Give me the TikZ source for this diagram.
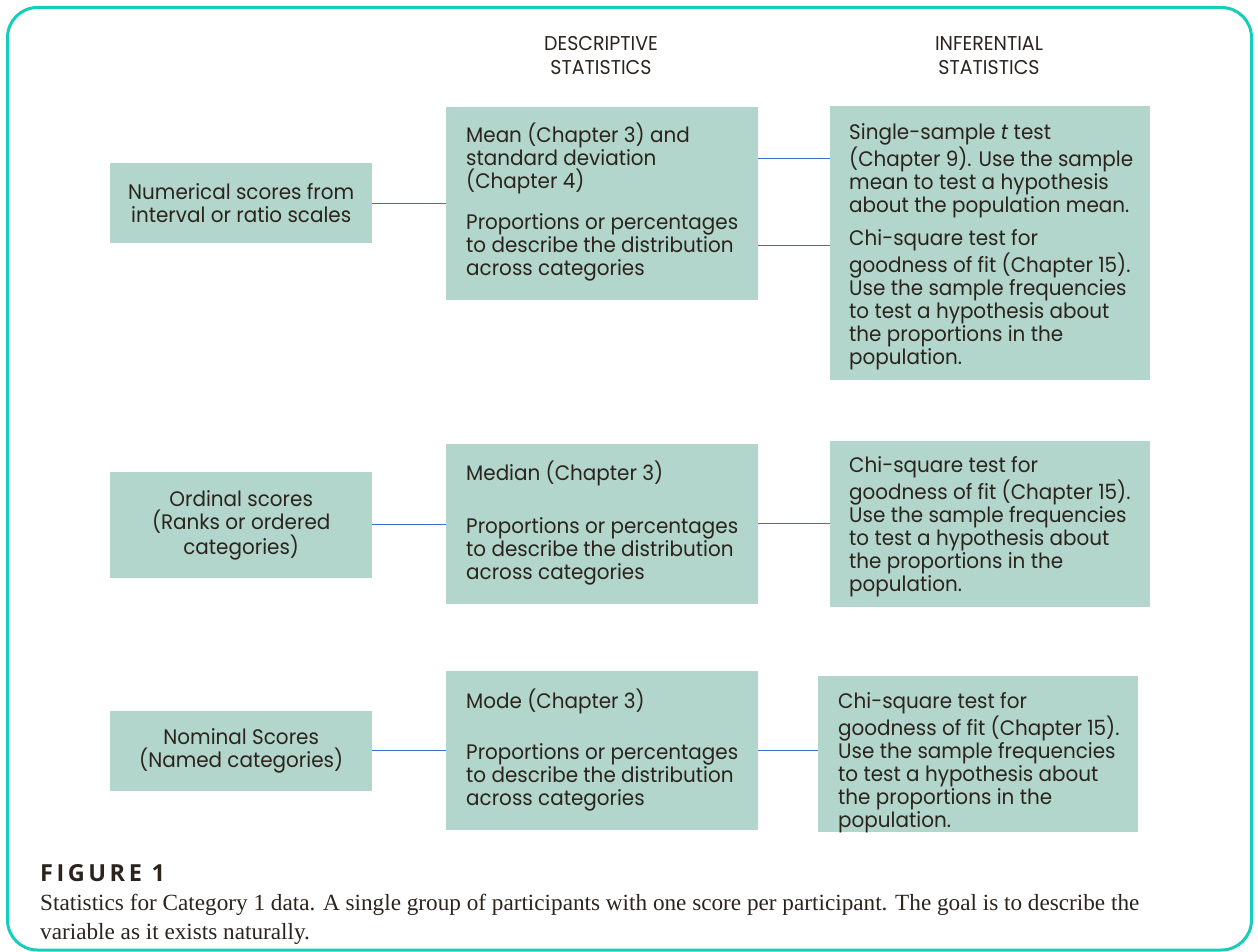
\documentclass[tikz,border=0pt]{standalone}
\usepackage{fontspec}
\newfontfamily\boxfont{Poppins}[FakeStretch=0.95]
\newfontfamily\capfont{Liberation Serif}
\newfontfamily\figfont{Open Sans}[LetterSpace=15]
\definecolor{bordercol}{RGB}{22,206,184}
\definecolor{boxfill}{RGB}{178,214,203}
\definecolor{linkblue}{RGB}{58,108,212}
\definecolor{txt}{RGB}{43,36,30}
\begin{document}
\begin{tikzpicture}[x=1pt,y=-1pt,
  box/.style={fill=boxfill, inner sep=0pt, anchor=north west, text=txt, align=center,
    font=\boxfont\fontsize{21}{23}\selectfont},
  btext/.style={anchor=base west, inner sep=0pt, align=left, text=txt,
    font=\boxfont\fontsize{21}{23}\selectfont},
  head/.style={anchor=base, inner sep=0pt, align=center, text=txt,
    font=\boxfont\fontsize{20}{24}\selectfont},
  link/.style={draw=linkblue, line width=1.5pt}]
\useasboundingbox (0,0) rectangle (1258,952);
\draw[bordercol, line width=3pt, rounded corners=30pt] (7.5,7.5) rectangle (1251.5,950);

% headings (base anchor = last line)
\node[head] (hd1) at (601,75) {DESCRIPTIVE\\STATISTICS};
\node[head] (hd2) at (989,75) {INFERENTIAL\\STATISTICS};

% row 1
\node[box, minimum width=262pt, minimum height=80pt] (L1) at (110,163) {Numerical scores from\\interval or ratio scales};
\node[box, minimum width=312pt, minimum height=193pt] (D1) at (446,107) {};
\node[box, minimum width=320pt, minimum height=274pt] (I1) at (830,106) {};
\node[btext] (d1a) at (466,189) {Mean (Chapter 3) and\\standard deviation\\(Chapter 4)};
\node[btext] (d1b) at (466,275) {Proportions or percentages\\to describe the distribution\\across categories};
\node[btext] (i1a) at (849,212) {Single-sample \textit{t} test\\(Chapter 9). Use the sample\\mean to test a hypothesis\\about the population mean.};
\node[btext] (i1b) at (849,364) {Chi-square test for\\goodness of fit (Chapter 15).\\Use the sample frequencies\\to test a hypothesis about\\the proportions in the\\population.};

% row 2
\node[box, minimum width=262pt, minimum height=106pt] (L2) at (110,472) {Ordinal scores\\(Ranks or ordered\\categories)};
\node[box, minimum width=312pt, minimum height=160pt] (D2) at (446,444) {};
\node[box, minimum width=320pt, minimum height=166pt] (I2) at (830,441) {};
\node[btext] (d2a) at (466,480) {Median (Chapter 3)};
\node[btext] (d2b) at (466,579) {Proportions or percentages\\to describe the distribution\\across categories};
\node[btext] (i2a) at (849,591) {Chi-square test for\\goodness of fit (Chapter 15).\\Use the sample frequencies\\to test a hypothesis about\\the proportions in the\\population.};

% row 3
\node[box, minimum width=262pt, minimum height=80pt] (L3) at (110,711) {Nominal Scores\\(Named categories)};
\node[box, minimum width=312pt, minimum height=159pt] (D3) at (446,671) {};
\node[box, minimum width=320pt, minimum height=156pt] (I3) at (818,676) {};
\node[btext] (d3a) at (466,708) {Mode (Chapter 3)};
\node[btext] (d3b) at (466,805) {Proportions or percentages\\to describe the distribution\\across categories};
\node[btext] (i3a) at (838,827) {Chi-square test for\\goodness of fit (Chapter 15).\\Use the sample frequencies\\to test a hypothesis about\\the proportions in the\\population.};

% connectors
\draw[link] (L1.east |- 0,203.5) -- (D1.west |- 0,203.5);
\draw[link] (D1.east |- 0,158.5) -- (I1.west |- 0,158.5);
\draw[link] (D1.east |- 0,245.5) -- (I1.west |- 0,245.5);
\draw[link] (L2.east |- 0,524.5) -- (D2.west |- 0,524.5);
\draw[link] (D2.east |- 0,523.5) -- (I2.west |- 0,523.5);
\draw[link] (L3.east |- 0,750.5) -- (D3.west |- 0,750.5);
\draw[link] (D3.east |- 0,750.5) -- (I3.west |- 0,750.5);

% caption
\node[anchor=base west, inner sep=0pt, text=txt, font=\figfont\bfseries\fontsize{23.5}{24}\selectfont] (fig) at (40,881) {FIGURE 1};
\node[anchor=base west, inner sep=0pt, align=left, text=txt, font=\capfont\fontsize{23.2}{29}\selectfont] (cap) at (40,939) {Statistics for Category 1 data. A single group of participants with one score per participant. The goal is to describe the\\variable as it exists naturally.};
\end{tikzpicture}
\end{document}
